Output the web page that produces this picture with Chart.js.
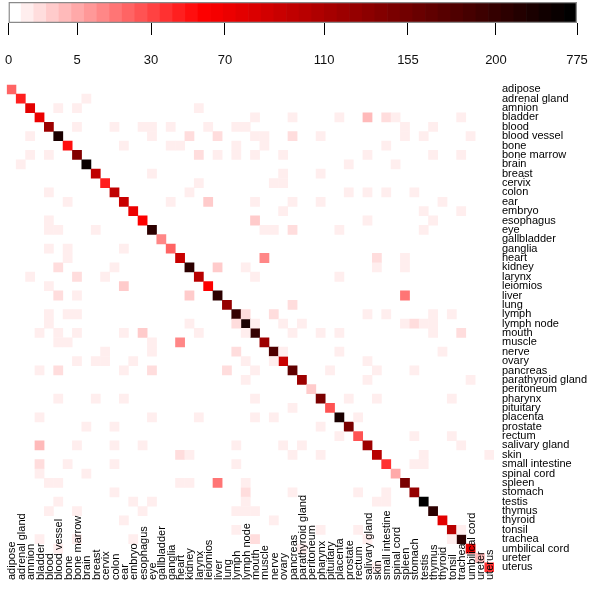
<!DOCTYPE html>
<html>
<head>
<meta charset="utf-8">
<script src="https://cdn.jsdelivr.net/npm/chart.js@4.4.1/dist/chart.umd.min.js"></script>
<style>
  html, body { margin: 0; padding: 0; background: #fff; }
  #wrap { position: relative; width: 600px; height: 590px; }
  #key { position: absolute; left: 0; top: 0; }
  #heat { position: absolute; left: 0; top: 70px; }
</style>
</head>
<body>
<div id="wrap">
  <canvas id="key" width="600" height="75"></canvas>
  <canvas id="heat" width="600" height="520"></canvas>
</div>
<script>
// tissues, same order on both axes
const tissues = [
  'adipose', 'adrenal gland', 'amnion', 'bladder', 'blood', 'blood vessel', 'bone', 'bone marrow',
  'brain', 'breast', 'cervix', 'colon', 'ear', 'embryo', 'esophagus', 'eye', 'gallbladder', 'ganglia',
  'heart', 'kidney', 'larynx', 'leiomios', 'liver', 'lung', 'lymph', 'lymph node', 'mouth', 'muscle',
  'nerve', 'ovary', 'pancreas', 'parathyroid gland', 'peritoneum', 'pharynx', 'pituitary', 'placenta',
  'prostate', 'rectum', 'salivary gland', 'skin', 'small intestine', 'spinal cord', 'spleen', 'stomach',
  'testis', 'thymus', 'thyroid', 'tonsil', 'trachea', 'umbilical cord', 'ureter', 'uterus'
];

// counts on the diagonal (tissue with itself)
const diagonal = [
  22, 43, 78, 74, 119, 500, 50, 144, 600, 97, 43, 97, 90, 70, 60, 270, 14, 22,
  90, 270, 105, 60, 270, 130, 215, 500, 215, 119, 181, 90, 170, 119, 3, 150, 26, 500,
  150, 26, 119, 105, 35, 6, 150, 130, 775, 270, 78, 105, 270, 78, 4, 35
];

// shared counts between two different tissues [row, col, count], matrix is symmetric
const shared = [
  [1, 8, 1],
  [2, 5, 1], [2, 7, 1], [2, 20, 1],
  [3, 26, 1], [3, 30, 1], [3, 35, 1], [3, 38, 4], [3, 40, 2], [3, 41, 1], [3, 48, 1],
  [4, 7, 1], [4, 11, 1], [4, 14, 1], [4, 15, 1], [4, 17, 1], [4, 21, 1], [4, 24, 1], [4, 25, 1], [4, 42, 1], [4, 45, 1],
  [5, 15, 1], [5, 19, 2], [5, 22, 2], [5, 26, 1], [5, 27, 1], [5, 30, 2], [5, 33, 1], [5, 42, 1], [5, 44, 1], [5, 49, 1],
  [6, 12, 1], [6, 17, 1], [6, 18, 1], [6, 24, 1], [6, 27, 1], [6, 40, 1],
  [7, 20, 2], [7, 22, 1], [7, 24, 1], [7, 26, 1], [7, 29, 1], [7, 38, 1], [7, 45, 1], [7, 48, 1],
  [8, 36, 1], [8, 41, 1],
  [9, 15, 1], [9, 29, 1], [9, 33, 1],
  [10, 20, 1], [10, 28, 1], [10, 29, 1],
  [11, 19, 1], [11, 36, 1], [11, 38, 1], [11, 40, 1], [11, 43, 1],
  [12, 17, 1], [12, 21, 3], [12, 26, 1], [12, 30, 1], [12, 33, 1], [12, 46, 1],
  [13, 29, 1], [13, 44, 1], [13, 48, 1],
  [14, 26, 3], [14, 38, 1], [14, 45, 1],
  [15, 27, 1], [15, 28, 1], [15, 30, 2], [15, 35, 1], [15, 44, 1],
  [18, 27, 14], [18, 39, 2], [18, 42, 1],
  [19, 22, 3], [19, 25, 1], [19, 39, 1], [19, 42, 1],
  [20, 26, 1], [20, 35, 1],
  [22, 42, 18],
  [23, 30, 2],
  [24, 25, 2], [24, 28, 2], [24, 38, 1], [24, 40, 1], [24, 45, 1], [24, 47, 1],
  [25, 26, 1], [25, 29, 1], [25, 31, 1], [25, 42, 1], [25, 43, 2], [25, 44, 1], [25, 45, 1],
  [26, 30, 1], [26, 33, 1], [26, 35, 1], [26, 45, 1], [26, 48, 2],
  [28, 29, 1], [28, 35, 1], [28, 46, 1],
  [29, 38, 1],
  [30, 34, 1], [30, 39, 1], [30, 43, 1],
  [31, 38, 1], [31, 49, 1],
  [33, 36, 1], [33, 39, 1], [33, 47, 1],
  [35, 37, 1],
  [37, 43, 1], [37, 47, 1],
  [38, 48, 1],
  [39, 44, 1], [39, 51, 1],
  [40, 43, 1], [40, 44, 1],
  [47, 48, 1]
];

// colour key tick labels
const keyTicks = [0, 5, 30, 70, 110, 155, 200, 775];

// where each key tick sits along the colour bar (0..1), the key is not linear
const keyStops = [0, 0.1205, 0.2507, 0.3808, 0.555, 0.7027, 0.8575, 1];
const KEY_BLOCKS = 45;
const RED_AT = 0.337;
const FONT = '"Liberation Sans", Arial, sans-serif';

function keyFrac(v) {
  for (let i = 1; i < keyTicks.length; i++) {
    if (v <= keyTicks[i]) {
      const t = (v - keyTicks[i - 1]) / (keyTicks[i] - keyTicks[i - 1]);
      return keyStops[i - 1] + t * (keyStops[i] - keyStops[i - 1]);
    }
  }
  return 1;
}

// white -> red -> black
function ramp(f) {
  if (f <= RED_AT) {
    const g = Math.round(255 * (1 - f / RED_AT));
    return `rgb(255,${g},${g})`;
  }
  const r = Math.round(255 * (1 - (f - RED_AT) / (1 - RED_AT)));
  return `rgb(${r},0,0)`;
}

const blockColor = k => ramp(k / (KEY_BLOCKS - 1));
const valueColor = v => blockColor(Math.min(KEY_BLOCKS - 1, Math.floor(keyFrac(v) * KEY_BLOCKS)));

// colour key
const blocks = [...Array(KEY_BLOCKS).keys()];

new Chart(document.getElementById('key'), {
  type: 'bar',
  data: {
    datasets: [
      {
        data: blocks.map(() => 1),
        backgroundColor: blocks.map(blockColor),
        xAxisID: 'xb',
        barPercentage: 1,
        categoryPercentage: 1,
        grouped: false,
        order: 2
      },
      {
        data: [1],
        xAxisID: 'xf',
        backgroundColor: 'rgba(0,0,0,0)',
        borderColor: '#8a8a8a',
        borderWidth: 1,
        borderSkipped: false,
        barPercentage: 1,
        categoryPercentage: 1,
        grouped: false,
        order: 1
      }
    ]
  },
  options: {
    responsive: false,
    animation: false,
    events: [],
    layout: { padding: { left: 8.5, right: 23, top: 2, bottom: 0 } },
    plugins: { legend: { display: false }, tooltip: { enabled: false } },
    scales: {
      xb: { type: 'category', labels: blocks, display: false },
      xf: { type: 'category', labels: ['frame'], display: false },
      keyAxis: {
        type: 'linear',
        axis: 'x',
        position: 'bottom',
        min: 0,
        max: 1,
        offset: false,
        afterBuildTicks: s => { s.ticks = keyStops.map(v => ({ value: v })); },
        afterFit: s => {
          s.height = 52;
          s.paddingLeft = 0;
          s.paddingRight = 0;
        },
        ticks: {
          autoSkip: false,
          maxRotation: 0,
          padding: 18,
          color: '#111',
          font: { family: FONT, size: 13 },
          callback: (v, i) => keyTicks[i]
        },
        grid: { drawOnChartArea: false, offset: false, tickLength: 12, color: '#000' },
        border: { display: false }
      },
      y: { min: 0, max: 1, display: false }
    }
  }
});

// heatmap cells
const cells = diagonal.map((v, i) => ({ x: i, y: i, v }));
shared.forEach(([r, c, v]) => {
  cells.push({ x: c, y: r, v });
  cells.push({ x: r, y: c, v });
});

const cellRadius = ctx => {
  const a = ctx.chart.chartArea;
  const side = a ? a.width / tissues.length + 0.4 : 9.5;
  return side / Math.SQRT2;
};

const bottomLabels = {
  id: 'bottomLabels',
  afterDatasetsDraw(chart) {
    const { ctx, chartArea, scales: { x } } = chart;
    ctx.save();
    ctx.font = `11px ${FONT}`;
    ctx.fillStyle = '#000';
    ctx.textAlign = 'left';
    ctx.textBaseline = 'middle';
    tissues.forEach((name, i) => {
      ctx.save();
      ctx.translate(x.getPixelForValue(i) + 1, chartArea.bottom + 8);
      ctx.rotate(-Math.PI / 2);
      ctx.fillText(name, 0, 0);
      ctx.restore();
    });
    ctx.restore();
  }
};

new Chart(document.getElementById('heat'), {
  type: 'scatter',
  data: {
    datasets: [{
      data: cells,
      pointStyle: 'rect',
      borderWidth: 0,
      backgroundColor: ctx => valueColor(ctx.raw.v),
      pointRadius: cellRadius,
      pointHoverRadius: cellRadius
    }]
  },
  options: {
    responsive: false,
    animation: false,
    events: [],
    layout: { padding: { left: 0, top: 8, right: 0, bottom: 18 } },
    plugins: { legend: { display: false }, tooltip: { enabled: false } },
    scales: {
      x: { type: 'linear', min: -0.5, max: 51.5, display: false },
      y: {
        type: 'linear',
        position: 'right',
        reverse: true,
        min: -0.5,
        max: 51.5,
        afterBuildTicks: s => { s.ticks = tissues.map((_, i) => ({ value: i })); },
        afterFit: s => { s.width = 106; },
        ticks: {
          autoSkip: false,
          padding: 8,
          color: '#000',
          font: { family: FONT, size: 11 },
          callback: v => tissues[v]
        },
        grid: { display: false, drawTicks: false },
        border: { display: false }
      }
    }
  },
  plugins: [bottomLabels]
});
</script>
</body>
</html>
